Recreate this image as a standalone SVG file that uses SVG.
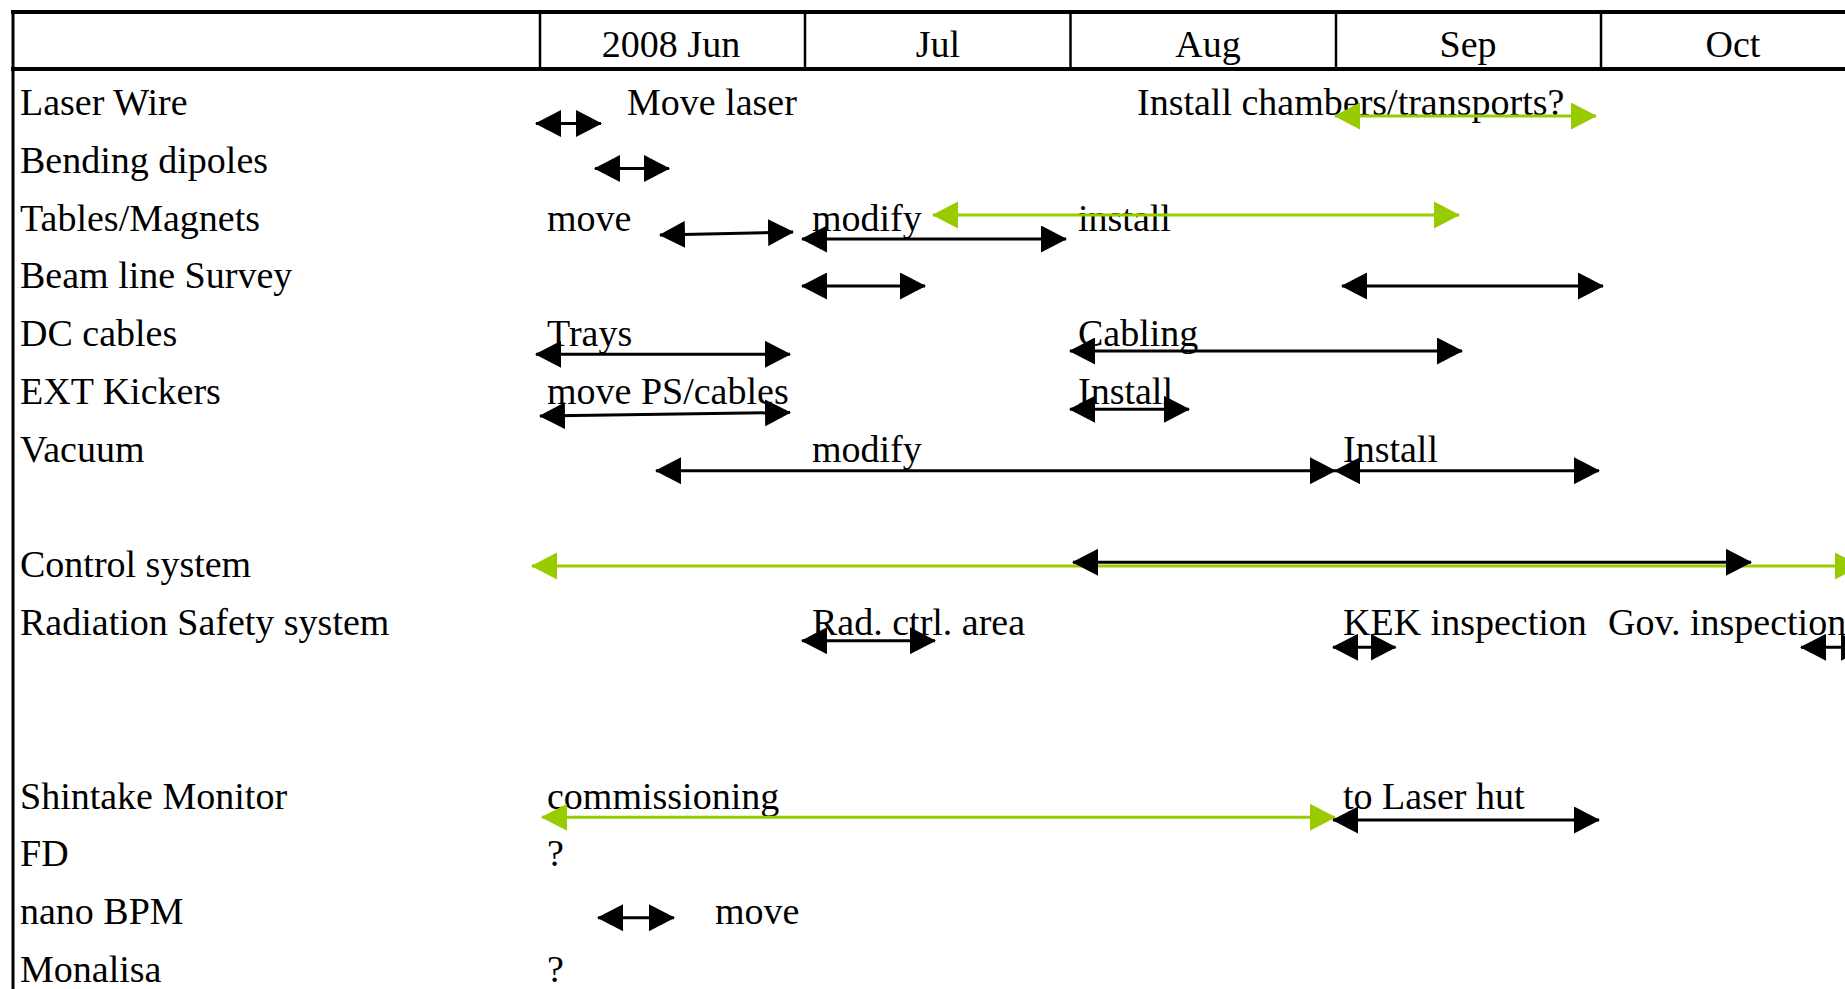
<svg xmlns="http://www.w3.org/2000/svg" width="1845" height="989" viewBox="0 0 1845 989">
<style>
text{font-family:"Liberation Serif","Times New Roman",serif;font-size:38px;fill:#000}
.h{text-anchor:middle}
.grid{stroke:#000;fill:none}
.b{stroke:#000;stroke-width:3;fill:none;marker-start:url(#ak);marker-end:url(#ak)}
.g{stroke:#99cc00;stroke-width:3;fill:none;marker-start:url(#ag);marker-end:url(#ag)}
</style>
<defs>
<marker id="ak" markerUnits="userSpaceOnUse" markerWidth="26" markerHeight="27" viewBox="0 0 26 27" refX="25" refY="13.5" orient="auto-start-reverse"><path d="M0,0 L26,13.5 L0,27 z" fill="#000"/></marker>
<marker id="ag" markerUnits="userSpaceOnUse" markerWidth="26" markerHeight="27" viewBox="0 0 26 27" refX="25" refY="13.5" orient="auto-start-reverse"><path d="M0,0 L26,13.5 L0,27 z" fill="#99cc00"/></marker>
</defs>
<rect width="1845" height="989" fill="#fff"/>
<g id="table">
<line class="grid" x1="11" y1="12" x2="1845" y2="12" stroke-width="4"/>
<line class="grid" x1="11" y1="69" x2="1845" y2="69" stroke-width="4"/>
<line class="grid" x1="13" y1="10" x2="13" y2="989" stroke-width="3"/>
<line class="grid" x1="540" y1="12" x2="540" y2="69" stroke-width="2.5"/>
<line class="grid" x1="805" y1="12" x2="805" y2="69" stroke-width="2.5"/>
<line class="grid" x1="1070.5" y1="12" x2="1070.5" y2="69" stroke-width="2.5"/>
<line class="grid" x1="1336" y1="12" x2="1336" y2="69" stroke-width="2.5"/>
<line class="grid" x1="1601" y1="12" x2="1601" y2="69" stroke-width="2.5"/>
<text class="h" x="671" y="57">2008 Jun</text>
<text class="h" x="938" y="57">Jul</text>
<text class="h" x="1208" y="57">Aug</text>
<text class="h" x="1468" y="57">Sep</text>
<text class="h" x="1733" y="57">Oct</text>
</g>
<g id="labels">
<text x="20" y="115">Laser Wire</text>
<text x="20" y="172.8">Bending dipoles</text>
<text x="20" y="230.6">Tables/Magnets</text>
<text x="20" y="288.4">Beam line Survey</text>
<text x="20" y="346.2">DC cables</text>
<text x="20" y="404">EXT Kickers</text>
<text x="20" y="461.8">Vacuum</text>
<text x="20" y="577.4">Control system</text>
<text x="20" y="635.2">Radiation Safety system</text>
<text x="20" y="808.6">Shintake Monitor</text>
<text x="20" y="866.4">FD</text>
<text x="20" y="924.2">nano BPM</text>
<text x="20" y="982">Monalisa</text>
</g>
<g id="notes">
<text x="627" y="115">Move laser</text>
<text x="1137" y="115">Install chambers/transports?</text>
<text x="547" y="230.6">move</text>
<text x="812" y="230.6">modify</text>
<text x="1078" y="230.6">install</text>
<text x="547" y="346.2">Trays</text>
<text x="1078" y="346.2">Cabling</text>
<text x="547" y="404">move PS/cables</text>
<text x="1078" y="404">Install</text>
<text x="812" y="461.8">modify</text>
<text x="1343" y="461.8">Install</text>
<text x="812" y="635.2">Rad. ctrl. area</text>
<text x="1343" y="635.2">KEK inspection</text>
<text x="1608" y="635.2">Gov. inspection</text>
<text x="547" y="808.6">commissioning</text>
<text x="1343" y="808.6">to Laser hut</text>
<text x="547" y="866.4">?</text>
<text x="715" y="924.2">move</text>
<text x="547" y="982">?</text>
</g>
<g id="connectors">
<line class="b" x1="536" y1="123.5" x2="601" y2="123.5"/>
<line class="g" x1="1335" y1="116" x2="1596" y2="116"/>
<line class="b" x1="595" y1="168.5" x2="669" y2="168.5"/>
<line class="b" x1="660" y1="235" x2="793" y2="232"/>
<line class="g" x1="933" y1="215" x2="1459" y2="215"/>
<line class="b" x1="802" y1="239" x2="1066" y2="239"/>
<line class="b" x1="802" y1="286" x2="925" y2="286"/>
<line class="b" x1="1342" y1="286" x2="1603" y2="286"/>
<line class="b" x1="536" y1="354.3" x2="790" y2="354.3"/>
<line class="b" x1="1070" y1="351" x2="1462" y2="351"/>
<line class="b" x1="540" y1="416" x2="790" y2="412.5"/>
<line class="b" x1="1070" y1="409.3" x2="1189" y2="409.3"/>
<line class="b" x1="656" y1="470.7" x2="1335" y2="470.7"/>
<line class="b" x1="1335" y1="470.7" x2="1599" y2="470.7"/>
<line class="g" x1="532" y1="566" x2="1860" y2="566"/>
<line class="b" x1="1073" y1="562.3" x2="1751" y2="562.3"/>
<line class="b" x1="802" y1="640.7" x2="935" y2="640.7"/>
<line class="b" x1="1333" y1="647.3" x2="1395.5" y2="647.3"/>
<line class="b" x1="1801" y1="647.3" x2="1866" y2="647.3"/>
<line class="g" x1="542" y1="817.3" x2="1335" y2="817.3"/>
<line class="b" x1="1333" y1="820" x2="1599" y2="820"/>
<line class="b" x1="598" y1="917.7" x2="674" y2="917.7"/>
</g>
</svg>
